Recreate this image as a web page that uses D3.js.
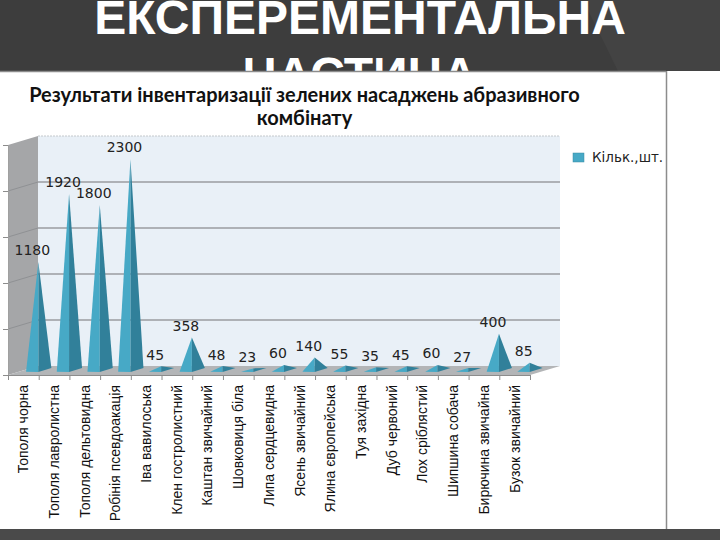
<!DOCTYPE html>
<html>
<head>
<meta charset="utf-8">
<script src="https://cdn.jsdelivr.net/npm/d3@7"></script>
<style>
  html, body { margin: 0; padding: 0; background: #fff; }
  svg { display: block; }
</style>
</head>
<body>
<div id="chart"></div>
<script>
// Values
const species = [
    "Тополя чорна", "Тополя лавролистна", "Тополя дельтовидна", "Робінія псевдоакація",
    "Іва вавилоська", "Клен гостролистний", "Каштан звичайний", "Шовковиця біла",
    "Липа сердцевидна", "Ясень звичайний", "Ялина європейська", "Туя західна",
    "Дуб червоний", "Лох сріблястий", "Шипшина собача", "Бирючина звичайна", "Бузок звичайний"
];
const counts = [1180, 1920, 1800, 2300, 45, 358, 48, 23, 60, 140, 55, 35, 45, 60, 27, 400, 85];
const yTicks = [0, 500, 1000, 1500, 2000, 2500];
const headerLines = ["ЕКСПЕРЕМЕНТАЛЬНА", "ЧАСТИНА"];
const titleLines = ["Результати інвентаризації зелених насаджень абразивного", "комбінату"];
const legendLabel = "Кільк.,шт.";

const svg = d3.select("#chart").append("svg").attr("width", 720).attr("height", 540);

// Slide background
svg.append("rect").attr("width", 720).attr("height", 71).attr("fill", "#3d3d3d");
svg.append("path").attr("d", "M583,0L618,71H720V0Z").attr("fill", "#434343");
const clip = svg.append("clipPath").attr("id", "header-clip");
clip.append("rect").attr("width", 720).attr("height", 71);

svg.append("g").attr("clip-path", "url(#header-clip)")
    .selectAll("text").data(headerLines).enter().append("text")
    .attr("x", 360)
    .attr("y", (d, i) => 34 + i * 57)
    .attr("text-anchor", "middle")
    .attr("font-family", "Liberation Sans")
    .attr("font-weight", "bold")
    .attr("font-size", 48)
    .attr("fill", "#fff")
    .text(d => d);

svg.append("rect").attr("y", 529).attr("width", 720).attr("height", 11).attr("fill", "#4a4a4a");
svg.append("line").attr("x1", 0).attr("x2", 666).attr("y1", 71.5).attr("y2", 71.5).attr("stroke", "#8c8c8c").attr("stroke-width", 1.5);
svg.append("line").attr("x1", 666.5).attr("x2", 666.5).attr("y1", 71).attr("y2", 529).attr("stroke", "#8c8c8c").attr("stroke-width", 1.5);

// Chart title
svg.append("g").selectAll("text").data(titleLines).enter().append("text")
    .attr("x", 304.5)
    .attr("y", (d, i) => 102 + i * 23)
    .attr("text-anchor", "middle")
    .attr("font-family", "Lato")
    .attr("font-weight", "bold")
    .attr("font-size", 20)
    .attr("fill", "#111")
    .text(d => d);

// Scales. The front edge of the floor runs 8..530, the back wall is shifted by the depth
const depthX = 30, depthY = 9;
const x = d3.scaleBand().domain(species).range([8, 530]);
const xEdges = d3.scaleLinear().domain([0, species.length]).range([8, 530]);
const y = d3.scaleLinear().domain([0, 2500]).range([375, 145]);

// Walls and floor
svg.append("path")
    .attr("d", `M${8},${y(0)}L${8 + depthX},${y(0) - depthY}V${y(2500) - depthY}L${8},${y(2500)}Z`)
    .attr("fill", "#a5a6a8");
svg.append("rect")
    .attr("x", 8 + depthX).attr("y", y(2500) - depthY)
    .attr("width", 522).attr("height", y(0) - y(2500))
    .attr("fill", "#e9f0f7");
svg.append("path")
    .attr("d", `M8,${y(0)}L${8 + depthX},${y(0) - depthY}H${530 + depthX}L530,${y(0)}Z`)
    .attr("fill", "#b3b5b7");

// Gridlines on the back wall and their continuation on the side wall
svg.append("g").selectAll("line").data(yTicks.slice(1)).enter().append("line")
    .attr("x1", 8 + depthX).attr("x2", 530 + depthX)
    .attr("y1", d => y(d) - depthY).attr("y2", d => y(d) - depthY)
    .attr("stroke", d => d === 2500 ? "#c4c8cc" : "#9a9da1")
    .attr("stroke-width", d => d === 2500 ? 1 : 1.5)
    .attr("stroke-dasharray", d => d === 2500 ? "2,1" : null);
svg.append("g").selectAll("line").data(yTicks.slice(1, -1)).enter().append("line")
    .attr("x1", 8).attr("x2", 8 + depthX)
    .attr("y1", d => y(d)).attr("y2", d => y(d) - depthY)
    .attr("stroke", "#8f9194")
    .attr("stroke-width", 1);

// Axes
const yAxis = svg.append("g")
    .attr("transform", "translate(8,0)")
    .call(d3.axisLeft(y).tickValues(yTicks).tickSize(5).tickFormat(""));
yAxis.selectAll("line").attr("stroke", "#8c8c8c");
yAxis.select(".domain").attr("stroke", "#a0a0a0");

const xTickAxis = svg.append("g")
    .attr("transform", `translate(0,${y(0)})`)
    .call(d3.axisBottom(xEdges).tickValues(d3.range(species.length + 1)).tickSize(5).tickFormat(""));
xTickAxis.selectAll("line").attr("stroke", "#8c8c8c");
xTickAxis.select(".domain").attr("stroke", "#8c8c8c");

const xLabelAxis = svg.append("g")
    .attr("transform", `translate(0,${y(0) + 10})`)
    .call(d3.axisBottom(x).tickSize(0).tickPadding(0));
xLabelAxis.select(".domain").remove();
xLabelAxis.selectAll("text")
    .attr("transform", "rotate(-90)")
    .attr("x", 0).attr("y", 0).attr("dy", "0.35em")
    .attr("text-anchor", "end")
    .attr("font-family", "Liberation Sans")
    .attr("font-size", 14)
    .attr("fill", "#111");

// Pyramids: apex over the centre of the base, shifted half way into the depth
const baseY = d => y(d) - depthY / 2;
const centre = name => x(name) + x.bandwidth() / 2 + depthX / 2;
const pyramids = svg.append("g").selectAll("g").data(counts).enter().append("g");
const outline = d3.line();

pyramids.append("path")
    .attr("fill", "#47a9c6")
    .attr("d", (d, i) => {
        const cx = centre(species[i]);
        return outline([[cx - 12.3, baseY(0) + 1.2], [cx, baseY(d)], [cx, baseY(0) + 1.5]]) + "Z";
    });
pyramids.append("path")
    .attr("fill", "#31809a")
    .attr("d", (d, i) => {
        const cx = centre(species[i]);
        return outline([[cx, baseY(0) + 1.5], [cx, baseY(d)], [cx + 13, baseY(0) - 2.5]]) + "Z";
    });

// Data labels
pyramids.append("text")
    .attr("x", (d, i) => centre(species[i]) - 6)
    .attr("y", d => baseY(d) - 6.5)
    .attr("text-anchor", "middle")
    .attr("font-family", "DejaVu Sans")
    .attr("font-size", 14)
    .attr("fill", "#222")
    .text(d => d);

// Legend
svg.append("rect").attr("x", 573).attr("y", 153).attr("width", 11).attr("height", 9)
    .attr("fill", "#47a9c6").attr("stroke", "#3a8aa3").attr("stroke-width", 0.5);
svg.append("text")
    .attr("x", 592).attr("y", 162)
    .attr("font-family", "DejaVu Sans")
    .attr("font-size", 13.5)
    .attr("fill", "#222")
    .text(legendLabel);
</script>
</body>
</html>
